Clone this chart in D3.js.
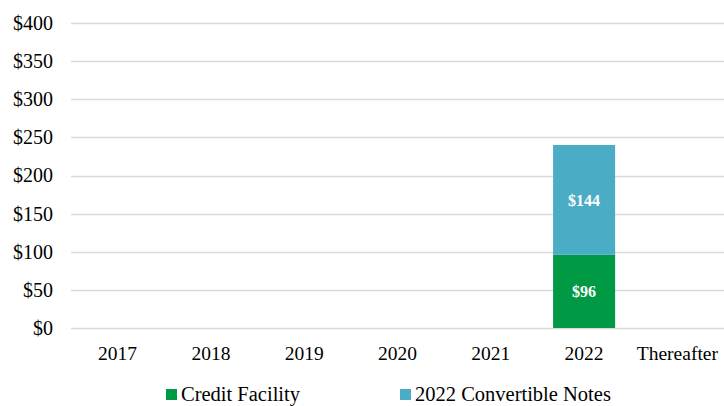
<!DOCTYPE html>
<html>
<head>
<meta charset="utf-8">
<script src="https://cdn.jsdelivr.net/npm/d3@7"></script>
<style>
  body { margin: 0; background: #fff; }
  svg { display: block; }
  svg text { font-family: 'Liberation Serif', 'DejaVu Serif', serif; }
</style>
</head>
<body>
<svg class="chart"></svg>
<script>
const years = ["2017", "2018", "2019", "2020", "2021", "2022", "Thereafter"];
const creditFacility = [0, 0, 0, 0, 0, 96, 0];
const convertibleNotes = [0, 0, 0, 0, 0, 144, 0];
const seriesNames = ["Credit Facility", "2022 Convertible Notes"];
const colors = ["#009a44", "#4bacc6"];
const yTicks = [0, 50, 100, 150, 200, 250, 300, 350, 400];

const width = 724, height = 406;
const font = "'Liberation Serif', 'DejaVu Serif', serif";

const svg = d3.select(".chart")
  .attr("width", width)
  .attr("height", height);

const x = d3.scaleBand().domain(years).range([71, 724]).paddingInner(0.335).paddingOuter(0.167);
const y = d3.scaleLinear().domain([0, 400]).range([328, 23]);

// grid
svg.append("g")
  .selectAll("line")
  .data(yTicks)
  .enter().append("line")
    .attr("x1", 71).attr("x2", 724)
    .attr("y1", d => Math.round(y(d)) + 0.5)
    .attr("y2", d => Math.round(y(d)) + 0.5)
    .attr("stroke", "#d9d9d9")
    .attr("stroke-width", 1.5);

// y labels
const yAxis = svg.append("g")
  .attr("transform", "translate(53,0)")
  .call(d3.axisLeft(y).tickValues(yTicks).tickSize(0).tickPadding(0).tickFormat(d => "$" + d));
yAxis.select(".domain").remove();
yAxis.attr("font-family", null);
yAxis.selectAll("text")
  .style("font-family", font)
  .attr("font-size", 20)
  .attr("fill", "#000");

// x labels
const xAxis = svg.append("g")
  .attr("transform", "translate(0,328)")
  .call(d3.axisBottom(x).tickSize(0).tickPadding(0));
xAxis.select(".domain").remove();
xAxis.attr("font-family", null);
xAxis.selectAll("text")
  .attr("dy", null)
  .attr("y", 32)
  .style("font-family", font)
  .attr("font-size", 19.5)
  .attr("fill", "#000");

// stacked bars
const table = years.map((yr, i) => ({ year: yr, "Credit Facility": creditFacility[i], "2022 Convertible Notes": convertibleNotes[i] }));
const stacked = d3.stack().keys(seriesNames)(table);

const layer = svg.append("g")
  .selectAll("g")
  .data(stacked)
  .enter().append("g")
    .attr("fill", (d, i) => colors[i]);

layer.selectAll("rect")
  .data(d => d.filter(p => p[1] - p[0] > 0))
  .enter().append("rect")
    .attr("x", d => x(d.data.year))
    .attr("width", x.bandwidth())
    .attr("y", d => y(d[1]))
    .attr("height", d => y(d[0]) - y(d[1]));

layer.selectAll("text")
  .data(d => d.filter(p => p[1] - p[0] > 0))
  .enter().append("text")
    .attr("x", d => x(d.data.year) + x.bandwidth() / 2)
    .attr("y", d => (y(d[0]) + y(d[1])) / 2)
    .attr("dy", "0.35em")
    .attr("text-anchor", "middle")
    .style("font-family", font)
    .attr("font-weight", "bold")
    .attr("font-size", 16)
    .attr("fill", "#fff")
    .text(d => "$" + (d[1] - d[0]));

// legend
const legendX = [166, 400];
const legend = svg.append("g")
  .selectAll("g")
  .data(seriesNames)
  .enter().append("g")
    .attr("transform", (d, i) => `translate(${legendX[i]},394)`);

legend.append("rect")
  .attr("x", 0).attr("y", -5)
  .attr("width", 11).attr("height", 11)
  .attr("fill", (d, i) => colors[i]);

legend.append("text")
  .attr("x", 15)
  .attr("dy", "0.33em")
  .style("font-family", font)
  .attr("font-size", 20.5)
  .attr("fill", "#000")
  .text(d => d);
</script>
</body>
</html>
